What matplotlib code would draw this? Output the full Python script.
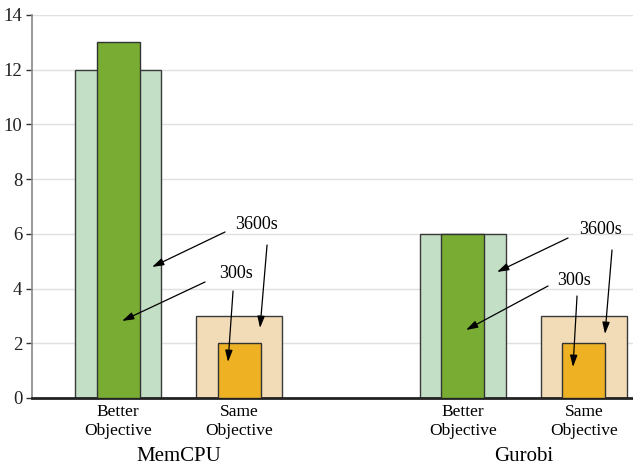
import matplotlib
matplotlib.use("Agg")
import matplotlib.pyplot as plt
import matplotlib.transforms as mtransforms

plt.rcParams['font.family'] = ['Liberation Serif', 'DejaVu Serif']

# Data
groups = ["MemCPU", "Gurobi"]
categories = ["Better\nObjective", "Same\nObjective"]
positions = [0.0, 1.0, 2.85, 3.85]
tick_labels = ["Better\nObjective", "Same\nObjective", "Better\nObjective", "Same\nObjective"]
vals_3600 = [12, 3, 6, 3]
vals_300 = [13, 2, 6, 2]
light_colors = ["#c3dfc6", "#f2dcb8", "#c3dfc6", "#f2dcb8"]
dark_colors = ["#79ac32", "#edb123", "#79ac32", "#edb123"]

fig = plt.figure(figsize=(6.33, 4.68), dpi=100)
ax = fig.add_axes([0.0506, 0.1496, 0.9494, 0.8184])

ax.set_axisbelow(True)
ax.yaxis.grid(True, color="#e0e0e0", linewidth=1)

ax.bar(positions, vals_3600, width=0.71, color=light_colors, edgecolor="#3a3a3a", linewidth=1, zorder=2)
ax.bar(positions, vals_300, width=0.355, color=dark_colors, edgecolor="#333333", linewidth=1, zorder=3)

ax.set_ylim(0, 14)
ax.set_xlim(-0.711, 4.256)
ax.set_yticks(range(0, 15, 2))
ax.tick_params(axis='y', labelsize=13.5, color="#333333", length=4, width=1, labelcolor="#222222", pad=3)
ax.set_xticks(positions)
ax.set_xticklabels(tick_labels, fontsize=12.5, linespacing=1.32)
ax.tick_params(axis='x', length=0, pad=4)

for s in ["top", "right"]:
    ax.spines[s].set_visible(False)
ax.spines["left"].set_color("#888888")
ax.spines["left"].set_linewidth(1.2)
ax.spines["bottom"].set_color("#222222")
ax.spines["bottom"].set_linewidth(2)

trans = mtransforms.blended_transform_factory(ax.transData, ax.transAxes)
for gi, g in enumerate(groups):
    xc = (positions[2 * gi] + positions[2 * gi + 1]) / 2
    ax.text(xc, -0.154, g, transform=trans, ha="center", va="center", fontsize=15)

def px2x(px):
    return (px - 118) / 121.0

def py2y(py):
    return (398 - py) / 27.357

# Annotations: (label, text position, [(tail, head), ...])
annots = [
    ("3600s", (256, 225), [((225, 232), (152, 267)), ((267, 245), (260, 328))]),
    ("300s", (236, 274), [((205, 282), (122, 321)), ((233, 291), (228, 362))]),
    ("3600s", (600, 230), [((568, 238), (497, 272)), ((612, 250), (605, 334))]),
    ("300s", (574, 281), [((548, 286), (466, 330)), ((577, 296), (573, 367))]),
]
for label, (tx, ty), arrows in annots:
    ax.text(px2x(tx), py2y(ty), label, ha="center", va="center", fontsize=13, zorder=5)
    for (t, h) in arrows:
        ax.annotate("", xy=(px2x(h[0]), py2y(h[1])), xytext=(px2x(t[0]), py2y(t[1])),
                    arrowprops=dict(arrowstyle="-|>,head_length=0.7,head_width=0.22",
                                    color="black", linewidth=0.9, shrinkA=0, shrinkB=0),
                    zorder=5)

fig.savefig("out.png", dpi=100)
